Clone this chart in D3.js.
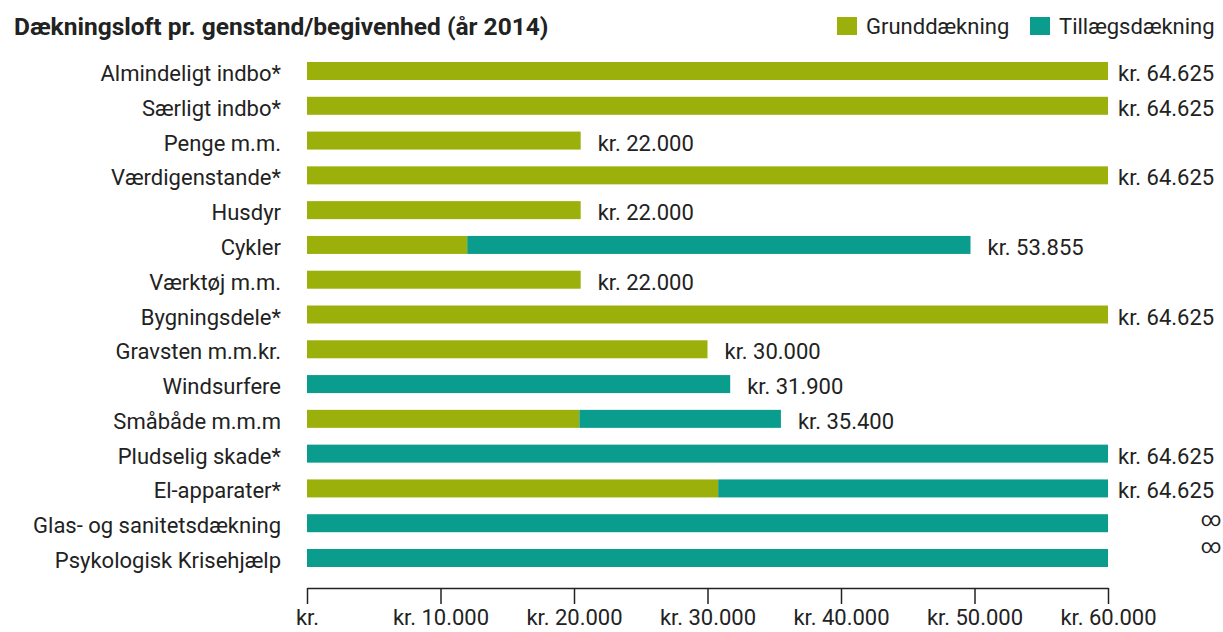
<!DOCTYPE html>
<html>
<head>
<meta charset="utf-8">
<script src="https://cdn.jsdelivr.net/npm/d3@7"></script>
<style>
  body { margin: 0; background: #fff; }
  text { font-family: "Roboto", "DejaVu Sans", sans-serif; fill: #222; }
</style>
</head>
<body>
<script>
// categories, top to bottom
const categories = ["Almindeligt indbo*", "Særligt indbo*", "Penge m.m.", "Værdigenstande*", "Husdyr",
  "Cykler", "Værktøj m.m.", "Bygningsdele*", "Gravsten m.m.kr.", "Windsurfere", "Småbåde m.m.m",
  "Pludselig skade*", "El-apparater*", "Glas- og sanitetsdækning", "Psykologisk Krisehjælp"];

// bar lengths as drawn (axis stops at 60.000)
const grund   = [60000, 60000, 20500, 60000, 20500, 12000, 20500, 60000, 30000, 0, 20400, 0, 30800, 0, 0];
const tillaeg = [0, 0, 0, 0, 0, 37700, 0, 0, 0, 31700, 15100, 60000, 29200, 60000, 60000];

// value labels
const valueLabels = ["kr. 64.625", "kr. 64.625", "kr. 22.000", "kr. 64.625", "kr. 22.000", "kr. 53.855",
  "kr. 22.000", "kr. 64.625", "kr. 30.000", "kr. 31.900", "kr. 35.400", "kr. 64.625", "kr. 64.625", "∞", "∞"];

const ticks = [0, 10000, 20000, 30000, 40000, 50000, 60000];
const tickLabels = ["kr.", "kr. 10.000", "kr. 20.000", "kr. 30.000", "kr. 40.000", "kr. 50.000", "kr. 60.000"];

const seriesNames = ["Grunddækning", "Tillægsdækning"];
const colors = ["#9bb00b", "#0a9d8d"];

const width = 1223, height = 632;
const fontSize = "22px";

const svg = d3.select("body").append("svg")
    .attr("width", width)
    .attr("height", height);

const x = d3.scaleLinear().domain([0, 60000]).range([307, 1108]);
const y = d3.scalePoint().domain(categories).range([71, 558]);
const barH = 18;

// title
svg.append("text")
    .attr("x", 14).attr("y", 35)
    .style("font-size", "24.5px")
    .style("font-weight", "bold")
    .text("Dækningsloft pr. genstand/begivenhed (år 2014)");

// legend
const legendX = [837, 1030];
seriesNames.forEach((name, i) => {
  svg.append("rect")
      .attr("x", legendX[i]).attr("y", 17)
      .attr("width", 20).attr("height", 18)
      .attr("fill", colors[i]);
  svg.append("text")
      .attr("x", legendX[i] + 29).attr("y", 34)
      .style("font-size", fontSize)
      .text(name);
});

// category labels
svg.selectAll("text.cat")
  .data(categories)
  .enter().append("text")
    .attr("class", "cat")
    .attr("x", 281)
    .attr("y", d => y(d) + 10)
    .attr("text-anchor", "end")
    .style("font-size", fontSize)
    .text(d => d);

// stacked bars
const rows = categories.map((c, i) => ({ cat: c, g: grund[i], t: tillaeg[i], label: valueLabels[i], i: i }));

svg.selectAll("rect.grund")
  .data(rows.filter(d => d.g > 0))
  .enter().append("rect")
    .attr("class", "grund")
    .attr("x", x(0))
    .attr("y", d => y(d.cat) - barH / 2)
    .attr("width", d => x(d.g) - x(0))
    .attr("height", barH)
    .attr("fill", colors[0]);

svg.selectAll("rect.till")
  .data(rows.filter(d => d.t > 0))
  .enter().append("rect")
    .attr("class", "till")
    .attr("x", d => x(d.g))
    .attr("y", d => y(d.cat) - barH / 2)
    .attr("width", d => x(d.g + d.t) - x(d.g))
    .attr("height", barH)
    .attr("fill", colors[1]);

// value labels (the two infinity signs sit a bit higher than their bars)
svg.selectAll("text.val")
  .data(rows)
  .enter().append("text")
    .attr("class", "val")
    .attr("x", d => {
      const end = d.g + d.t;
      if (d.label === "∞") return 1211;
      return x(end) + (end >= 60000 ? 10 : 17);
    })
    .attr("y", d => {
      if (d.label === "∞") return y(d.cat) + (d.i === 13 ? 3 : -5);
      return y(d.cat) + 10;
    })
    .attr("text-anchor", d => d.label === "∞" ? "middle" : "start")
    .style("font-size", d => d.label === "∞" ? "20px" : fontSize)
    .text(d => d.label);

// x axis
const axis = d3.axisBottom(x)
    .tickValues(ticks)
    .tickSize(16)
    .tickSizeOuter(0)
    .tickFormat((d, i) => tickLabels[i]);

const gAxis = svg.append("g")
    .attr("transform", "translate(0,588)")
    .call(axis);

gAxis.select(".domain").attr("stroke", "#222").attr("stroke-width", 1.5);
gAxis.selectAll(".tick line").attr("stroke", "#222").attr("stroke-width", 1.5);
gAxis.selectAll(".tick text")
    .attr("y", 21)
    .style("font-size", fontSize)
    .style("font-family", "Roboto, sans-serif")
    .attr("fill", "#222");
</script>
</body>
</html>
